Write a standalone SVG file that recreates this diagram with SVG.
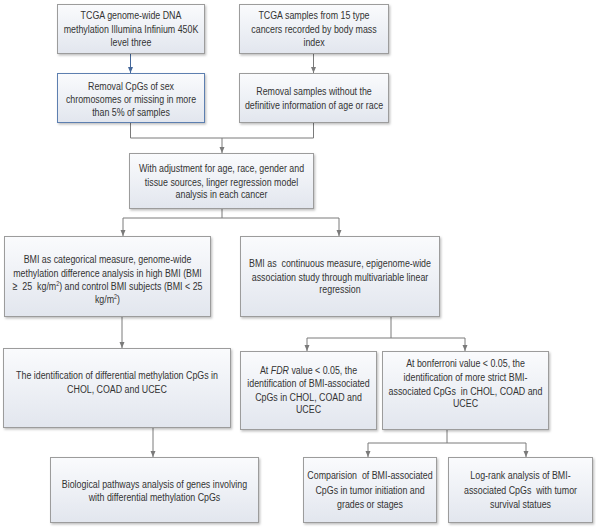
<svg xmlns="http://www.w3.org/2000/svg" width="596" height="528" viewBox="0 0 596 528">
<defs>
<linearGradient id="g" x1="0" y1="0" x2="0" y2="1">
<stop offset="0" stop-color="#fafbfd"/>
<stop offset="1" stop-color="#e2e6ee"/>
</linearGradient>
<filter id="sh" x="-5%" y="-5%" width="110%" height="115%">
<feDropShadow dx="1.2" dy="1.5" stdDeviation="1" flood-color="#000" flood-opacity="0.25"/>
</filter>
<marker id="ah" viewBox="0 0 6 6" refX="6" refY="3" markerWidth="6" markerHeight="6" orient="auto" markerUnits="userSpaceOnUse">
<path d="M0,0.5 L6,3 L0,5.5 z" fill="#7a7a7a"/>
</marker>
<marker id="ahb" viewBox="0 0 6 6" refX="6" refY="3" markerWidth="6" markerHeight="6" orient="auto" markerUnits="userSpaceOnUse">
<path d="M0,0.5 L6,3 L0,5.5 z" fill="#44679a"/>
</marker>
</defs>
<style>
.box{fill:url(#g);stroke:#9c9c9c;stroke-width:1;filter:url(#sh)}
.blue{stroke:#5d7fb0}
text{font-family:"Liberation Sans",Arial,sans-serif;font-size:11.5px;fill:#333;text-anchor:middle;white-space:pre}
.c{fill:none;stroke:#7a7a7a;stroke-width:1}
.a{marker-end:url(#ah)}
</style>
<rect width="596" height="528" fill="#fff"/>
<g id="connectors">
<path class="c" d="M130.5,53 V73" style="stroke:#44679a;marker-end:url(#ahb)"/>
<path class="c a" d="M313.5,53 V73"/>
<path class="c" d="M130.5,122 V138 H313.5 V122"/>
<path class="c a" d="M222,138 V153"/>
<path class="c" d="M222,208 V218 M123,218 H339"/>
<path class="c a" d="M123,218 V236"/>
<path class="c a" d="M339,218 V236"/>
<path class="c a" d="M122,316 V348"/>
<path class="c" d="M391,316 V338 M307,338 H465"/>
<path class="c a" d="M307,338 V351"/>
<path class="c a" d="M465,338 V351"/>
<path class="c a" d="M153,427 V457"/>
<path class="c" d="M447,429 V443 M368,443 H526"/>
<path class="c a" d="M368,443 V457"/>
<path class="c a" d="M526,443 V457"/>
</g>
<g id="n1"><rect class="box" x="57.5" y="4.5" width="147" height="49"/>
<g transform="matrix(0.77 0 0 1 131 0)"><text x="0" y="19">TCGA genome-wide DNA</text><text x="0" y="33">methylation Illumina Infinium 450K</text><text x="0" y="46">level three</text></g></g>
<g id="n2"><rect class="box" x="239.5" y="4.5" width="149" height="49"/>
<g transform="matrix(0.77 0 0 1 314 0)"><text x="0" y="19">TCGA samples from 15 type</text><text x="0" y="33">cancers recorded by body mass</text><text x="0" y="46">index</text></g></g>
<g id="n3"><rect class="box blue" x="57.5" y="73.5" width="147" height="49"/>
<g transform="matrix(0.77 0 0 1 131 0)"><text x="0" y="90">Removal CpGs of sex</text><text x="0" y="103">chromosomes or missing in more</text><text x="0" y="116">than 5% of samples</text></g></g>
<g id="n4"><rect class="box" x="239.5" y="73.5" width="149" height="49"/>
<g transform="matrix(0.77 0 0 1 314 0)"><text x="0" y="95">Removal samples without the</text><text x="0" y="109">definitive information of age or race</text></g></g>
<g id="n5"><rect class="box" x="129.5" y="153.5" width="184" height="55"/>
<g transform="matrix(0.77 0 0 1 221.5 0)"><text x="0" y="172">With adjustment for age, race, gender and</text><text x="0" y="186">tissue sources, linger regression model</text><text x="0" y="198">analysis in each cancer</text></g></g>
<g id="n6"><rect class="box" x="4.5" y="236.5" width="206" height="80"/>
<g transform="matrix(0.77 0 0 1 107.5 0)"><text x="0" y="263">BMI as categorical measure, genome-wide</text><text x="0" y="277">methylation difference analysis in high BMI (BMI</text><text x="0" y="290">≥  25  kg/m<tspan font-size="7" dy="-4">2</tspan><tspan dy="4">) and control BMI subjects (BMI &lt; 25</tspan></text><text x="0" y="303">kg/m<tspan font-size="7" dy="-4">2</tspan><tspan dy="4">)</tspan></text></g></g>
<g id="n7"><rect class="box" x="240.5" y="236.5" width="199" height="80"/>
<g transform="matrix(0.77 0 0 1 340 0)"><text x="0" y="267">BMI as  continuous measure, epigenome-wide</text><text x="0" y="281">association study through multivariable linear</text><text x="0" y="293">regression</text></g></g>
<g id="n8"><rect class="box" x="3.5" y="348.5" width="227" height="79"/>
<g transform="matrix(0.77 0 0 1 117 0)"><text x="0" y="379">The identification of differential methylation CpGs in</text><text x="0" y="393">CHOL, COAD and UCEC</text></g></g>
<g id="n9"><rect class="box" x="240.5" y="351.5" width="136" height="78"/>
<g transform="matrix(0.77 0 0 1 308.5 0)"><text x="0" y="374">At <tspan font-style="italic">FDR</tspan> value &lt; 0.05, the</text><text x="0" y="387">identification of BMI-associated</text><text x="0" y="401">CpGs in CHOL, COAD and</text><text x="0" y="413">UCEC</text></g></g>
<g id="n10"><rect class="box" x="382.5" y="351.5" width="166" height="78"/>
<g transform="matrix(0.77 0 0 1 465.5 0)"><text x="0" y="367">At bonferroni value &lt; 0.05, the</text><text x="0" y="381">identification of more strict BMI-</text><text x="0" y="395">associated CpGs  in CHOL, COAD and</text><text x="0" y="407">UCEC</text></g></g>
<g id="n11"><rect class="box" x="50.5" y="457.5" width="208" height="65"/>
<g transform="matrix(0.77 0 0 1 154.5 0)"><text x="0" y="488">Biological pathways analysis of genes involving</text><text x="0" y="501">with differential methylation CpGs</text></g></g>
<g id="n12"><rect class="box" x="303.5" y="457.5" width="133" height="65"/>
<g transform="matrix(0.77 0 0 1 370 0)"><text x="0" y="479">Comparision  of BMI-associated</text><text x="0" y="494">CpGs in tumor initiation and</text><text x="0" y="508">grades or stages</text></g></g>
<g id="n13"><rect class="box" x="448.5" y="457.5" width="144" height="65"/>
<g transform="matrix(0.77 0 0 1 520.5 0)"><text x="0" y="479">Log-rank analysis of BMI-</text><text x="0" y="494">associated CpGs  with tumor</text><text x="0" y="508">survival statues</text></g></g>
</svg>
